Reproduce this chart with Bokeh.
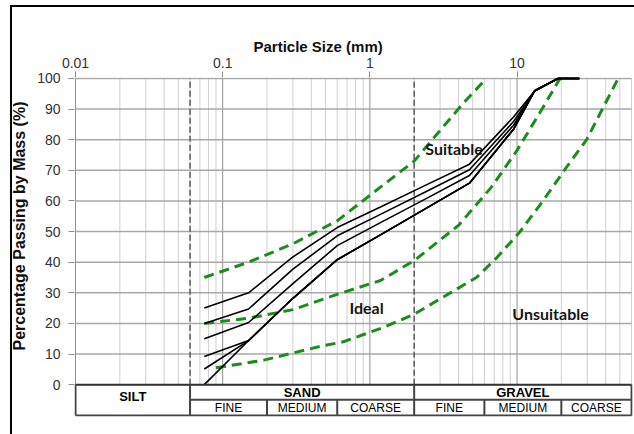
from bokeh.plotting import figure
from bokeh.models import Range1d, FixedTicker, CustomJSTickFormatter, Title, InlineStyleSheet
from bokeh.core.properties import value
from bokeh.embed import file_html
from bokeh.resources import INLINE

# ---------------- data ----------------
sieve_mm = [0.075, 0.15, 0.3, 0.6, 1.18, 2.36, 4.75, 9.5, 13.2, 19, 26.5]
grading_1 = [25, 30, 41.7, 51.3, 58, 65, 72, 87.5, 96, 100, 100]
grading_2 = [20, 24.7, 37.7, 48.6, 55.6, 62.8, 70.2, 86, 96, 100, 100]
grading_3 = [15, 20.3, 33, 45.4, 52.9, 60.5, 68.3, 84.8, 96, 100, 100]
grading_4 = [9.2, 14.4, 28.2, 40.8, 48.9, 57.3, 65.8, 83.5, 96, 100, 100]
grading_5 = [5.1, 14.4, 28.2, 40.8, 48.9, 57.3, 65.8, 83.5, 96, 100, 100]
grading_6 = [0, 14.4, 28.2, 40.8, 48.9, 57.3, 65.8, 83.5, 96, 100, 100]
gradings = [grading_1, grading_2, grading_3, grading_4, grading_5, grading_6]

env_upper_mm = [0.075, 0.15, 0.3, 0.6, 1.18, 2, 3, 4.33, 6.2]
env_upper_pct = [35, 40, 46, 53.5, 64.5, 73, 83, 92, 100]
env_mid_mm = [0.075, 0.15, 0.3, 0.6, 1.18, 2, 4, 6.7, 10, 15, 19.6]
env_mid_pct = [20, 21.7, 24.5, 29.5, 34, 40.5, 52, 64.5, 76.5, 90.5, 100]
env_lower_mm = [0.09, 0.19, 0.46, 0.66, 1.24, 2, 3, 5.3, 7.3, 10.5, 15, 21.7, 29.7, 38.5, 48.7]
env_lower_pct = [5.5, 8, 12.5, 14, 18.7, 23, 28, 35, 41.5, 50, 60, 71, 80, 90.5, 100]

y_ticks = [0, 10, 20, 30, 40, 50, 60, 70, 80, 90, 100]
x_ticks = [0.01, 0.1, 1, 10]
x_min, x_max = 0.01, 60

soil_bounds = [0.01, 0.06, 2, 60]
soil_names = ["SILT", "SAND", "GRAVEL"]
sub_bounds = [0.06, 0.2, 0.6, 2, 6, 20, 60]
sub_names = ["FINE", "MEDIUM", "COARSE", "FINE", "MEDIUM", "COARSE"]
table_row_split = -4.9
table_bottom = -10.1

zone_labels = ["Suitable", "Ideal", "Unsuitable"]
zone_label_mm = [2.38, 0.726, 9.29]
zone_label_pct = [77, 25.2, 23.1]

# ---------------- figure ----------------
page_frame = InlineStyleSheet(css="""
:host { position: relative; }
:host::after { content: ""; position: absolute; left: 10px; top: 5px; right: 0; bottom: 0;
  border-left: 2px solid black; border-top: 2px solid black; pointer-events: none; }
""")

p = figure(width=634, height=434, x_axis_type="log", x_axis_location="above",
           x_range=Range1d(0.00984, 60.9), y_range=Range1d(-10.4, 100.3),
           output_backend="svg", toolbar_location=None,
           min_border_left=74, min_border_right=2, min_border_top=77, min_border_bottom=18,
           stylesheets=[page_frame])
p.outline_line_color = None
p.grid.visible = False
p.background_fill_color = "white"

FONT = "Liberation Sans"

# axes
p.yaxis.ticker = FixedTicker(ticks=y_ticks)
p.yaxis.axis_line_color = None
p.yaxis.major_tick_out = 6
p.yaxis.major_tick_in = 0
p.yaxis.minor_tick_line_color = None
p.yaxis.major_tick_line_color = "#8c8c8c"
p.yaxis.major_label_text_font = FONT
p.yaxis.major_label_text_font_size = "14px"
p.yaxis.major_label_text_color = "#333333"
p.yaxis.major_label_standoff = 8

p.xaxis.ticker = FixedTicker(ticks=x_ticks)
p.xaxis.formatter = CustomJSTickFormatter(code="return String(tick)")
p.xaxis.axis_line_color = None
p.xaxis.major_tick_out = 6
p.xaxis.major_tick_in = 0
p.xaxis.minor_tick_line_color = None
p.xaxis.major_tick_line_color = "#8c8c8c"
p.xaxis.major_label_text_font = FONT
p.xaxis.major_label_text_font_size = "14px"
p.xaxis.major_label_text_color = "#333333"
p.xaxis.major_label_standoff = 4

p.add_layout(Title(text="Particle Size (mm)", align="left", offset=179, standoff=0,
                   text_font=FONT, text_font_size="15px", text_font_style="bold",
                   text_color="#111111"), "above")
p.add_layout(Title(text="Percentage Passing by Mass (%)", align="left", offset=66, standoff=14,
                   text_font=FONT, text_font_size="16px", text_font_style="bold",
                   text_color="#111111"), "left")

# grid
minor_x = [m * d for d in x_ticks for m in range(2, 10) if m * d <= x_max]
p.segment(x0=minor_x, y0=[0] * len(minor_x), x1=minor_x, y1=[100] * len(minor_x),
          line_color="#cfcfcf", line_width=1)
p.segment(x0=x_ticks, y0=[0] * len(x_ticks), x1=x_ticks, y1=[100] * len(x_ticks),
          line_color="#8f8f8f", line_width=1)
p.segment(x0=[x_min] * len(y_ticks), y0=y_ticks, x1=[x_max] * len(y_ticks), y1=y_ticks,
          line_color="#a8a8a8", line_width=1.5)

# soil class boundaries (dashed)
inner_bounds = soil_bounds[1:-1]
p.segment(x0=inner_bounds, y0=[0] * len(inner_bounds), x1=inner_bounds, y1=[100] * len(inner_bounds),
          line_color="#5a5a5a", line_width=1.5, line_dash="6 3")

# envelopes
GREEN = "#1c8c1c"
for xs, ys in [(env_upper_mm, env_upper_pct), (env_mid_mm, env_mid_pct), (env_lower_mm, env_lower_pct)]:
    p.line(xs, ys, line_color=GREEN, line_width=3, line_dash="10 6")

# gradings
for g in gradings:
    p.line(sieve_mm, g, line_color="black", line_width=1.6)

# zone labels
p.text(x=zone_label_mm, y=zone_label_pct, text=zone_labels, text_font=value("Lato"),
       text_font_style="bold", text_font_size="16px", text_baseline="middle",
       text_align="left", text_color="#151515")

# table
TC = "#444444"
p.segment(x0=[x_min], y0=[0], x1=[x_max], y1=[0], line_color="#333333", line_width=2)
p.segment(x0=[x_min], y0=[table_bottom], x1=[x_max], y1=[table_bottom], line_color=TC, line_width=2)
p.segment(x0=[soil_bounds[1]], y0=[table_row_split], x1=[x_max], y1=[table_row_split],
          line_color=TC, line_width=2)
p.segment(x0=soil_bounds, y0=[table_bottom] * len(soil_bounds), x1=soil_bounds, y1=[0] * len(soil_bounds),
          line_color=TC, line_width=2)
sub_inner = [b for b in sub_bounds if b not in soil_bounds]
p.segment(x0=sub_inner, y0=[table_bottom] * len(sub_inner), x1=sub_inner,
          y1=[table_row_split] * len(sub_inner), line_color=TC, line_width=2)

soil_x = [(soil_bounds[i] * soil_bounds[i + 1]) ** 0.5 for i in range(len(soil_names))]
soil_y = [table_row_split * 0.8, table_row_split / 2, table_row_split / 2]
p.text(x=soil_x, y=soil_y, text=soil_names, text_font=value(FONT), text_font_style="bold",
       text_font_size="13px", text_align="center", text_baseline="middle", text_color="black")
sub_x = [(sub_bounds[i] * sub_bounds[i + 1]) ** 0.5 for i in range(len(sub_names))]
sub_y = [(table_row_split + table_bottom) / 2] * len(sub_names)
p.text(x=sub_x, y=sub_y, text=sub_names, text_font=value(FONT),
       text_font_size="12px", text_align="center", text_baseline="middle", text_color="black")

open("out.html", "w").write(file_html(p, INLINE))
